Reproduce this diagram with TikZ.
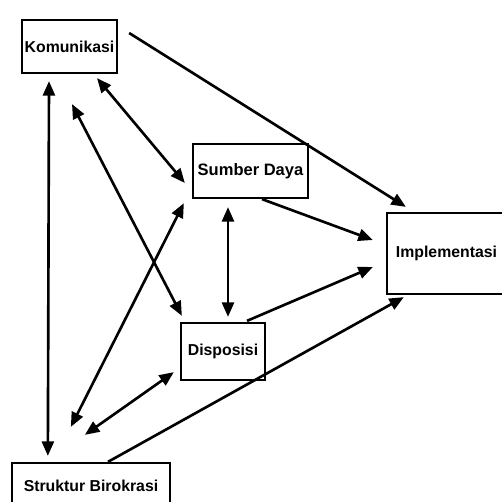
\documentclass[tikz,border=0pt]{standalone}
\usepackage{fontspec}
\setmainfont{Liberation Sans}
\usetikzlibrary{arrows.meta}
\begin{document}
\begin{tikzpicture}[x=0.2mm,y=-0.2mm]
	% one pixel of the scan
	\def\px{0.2mm}
	\def\lw{1.5pt}
	% node style definition
	\tikzstyle{box} = [draw, line width=1.3pt, fill=white, rectangle, inner sep=0pt, font=\bfseries\fontsize{9}{10}\selectfont];
	\tikzstyle{link} = [line width=\lw, -{Triangle[length=2.9mm,width=2.4mm]}];
	\tikzstyle{both} = [line width=\lw, {Triangle[length=2.9mm,width=2.4mm]}-{Triangle[length=2.9mm,width=2.4mm]}];
	\clip (0,0) rectangle (502,502);
	\fill[white] (0,0) rectangle (502,502);
	% the five factors
	\node[box, minimum width=95*\px, minimum height=53*\px] (kom) at (69.5,46.5) { Komunikasi };
	\node[box, minimum width=115*\px, minimum height=54*\px, font=\bfseries\fontsize{9.4}{11}\selectfont] (sumber) at (250.5,171) { Sumber Daya };
	\node[box, minimum width=119*\px, minimum height=81*\px] (impl) at (446.5,253.5) { Implementasi };
	\node[box, minimum width=84*\px, minimum height=57*\px] (dispo) at (223,351.5) { Disposisi };
	\node[box, minimum width=158*\px, minimum height=45*\px] (struktur) at (91,485.5) { Struktur Birokrasi };
	% arrows towards Implementasi
	\draw[link] ([shift={(11,-13.5)}]kom.east) -- ([shift={(20,-5)}]impl.north west);
	\draw[link] ([shift={(11.5,0)}]sumber.south) -- ([shift={(-13,-13.5)}]impl.west);
	\draw[link] ([shift={(24,-1)}]dispo.north) -- ([shift={(-13,13.5)}]impl.west);
	\draw[link] ([shift={(17,0)}]struktur.north) -- ([shift={(18,2)}]impl.south west);
	% two-way arrows
	\draw[both] ([shift={(27.5,4)}]kom.south) -- ([shift={(-7,12)}]sumber.west);
	\draw[both] ([shift={(2.5,30)}]kom.south) -- ([shift={(2,-6)}]dispo.north west);
	\draw[both] ([shift={(-20.5,7)}]kom.south) -- ([shift={(37,-6)}]struktur.north west);
	\draw[both] ([shift={(-8,4)}]sumber.south west) -- ([shift={(60,-35)}]struktur.north west);
	\draw[both] ([shift={(-6,-9)}]dispo.south west) -- ([shift={(74,-27)}]struktur.north west);
	\draw[both] ([shift={(-22.5,8)}]sumber.south) -- ([shift={(5,-5)}]dispo.north);
\end{tikzpicture}
\end{document}
